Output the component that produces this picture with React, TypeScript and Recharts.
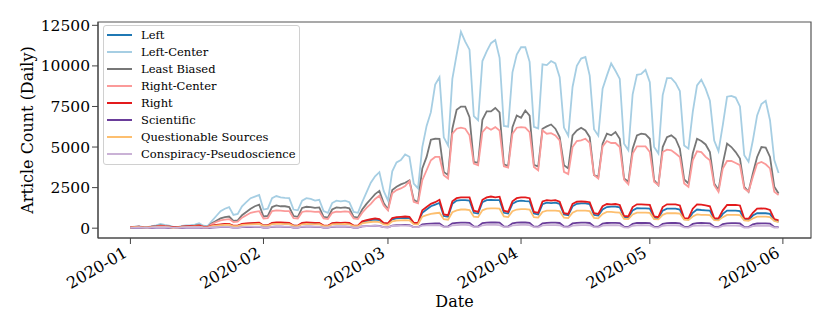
import { LineChart, Line, XAxis, YAxis, ReferenceArea } from "recharts";

// daily article counts, 2020-01-01 .. 2020-05-31 (152 days)
const left = [
  50, 70, 80, 40, 30, 80, 90, 110, 100, 90, 50, 40, 90, 100, 110, 120, 140, 70, 60,
  130, 180, 210, 230, 240, 130, 140, 230, 260, 280, 300, 310, 150, 160,
  300, 320, 310, 300, 300, 150, 140,
  290, 310, 300, 290, 300, 140, 130,
  280, 300, 300, 310, 290, 140, 130,
  370, 440, 490, 530, 500, 290, 270,
  550, 600, 620, 640, 620, 300, 280,
  950, 1150, 1350, 1450, 1550, 750, 700,
  1500, 1700, 1730, 1730, 1700, 950, 900,
  1600, 1730, 1750, 1730, 1730, 950, 900,
  1500, 1650, 1700, 1670, 1650, 900, 850,
  1480, 1570, 1550, 1570, 1500, 850, 800,
  1350, 1500, 1530, 1530, 1480, 820, 780,
  1150, 1300, 1325, 1325, 1280, 680, 650,
  1100, 1230, 1225, 1225, 1200, 650, 610,
  1080, 1200, 1200, 1200, 1150, 560, 540,
  950, 1150, 1120, 1100, 1080, 560, 520,
  880, 1080, 1080, 1080, 1050, 520, 500,
  780, 920, 920, 920, 880, 480, 400,
];

const leftCenter = [
  60, 90, 120, 70, 60, 130, 170, 260, 200, 150, 80, 70, 140, 170, 180, 220, 300, 150, 130,
  450, 750, 1050, 1200, 1300, 820, 880, 1350, 1600, 1850, 1950, 2050, 1150, 1200,
  1850, 1980, 1900, 1870, 1850, 1150, 1100,
  1700, 1850, 1800, 1700, 1750, 1050, 950,
  1550, 1700, 1650, 1700, 1600, 1000, 950,
  1600, 2200, 2800, 3200, 3450, 2300, 1700,
  3500, 4050, 4200, 4550, 4400, 2750, 2450,
  5000, 6300, 7150, 8850, 9300, 5600, 5100,
  9200, 10700, 12100, 11500, 11000, 6900, 6650,
  10300, 10900, 11400, 11600, 10500, 6300, 6250,
  9600, 10700, 11150, 11150, 10250, 6250, 6150,
  10100, 10050, 10300, 10150, 9300, 6200, 5700,
  8700, 10000, 10450, 10550, 9400, 6100, 5700,
  8600, 9400, 10150, 9700, 9200, 5200, 4800,
  8250, 9450, 9500, 9750, 9000, 5000, 4600,
  8200, 9250, 9250, 8950, 8450, 5100, 4900,
  7150, 8800, 9150, 8600, 7850, 5400, 4750,
  6350, 8100, 8150, 8050, 7500, 4500, 4100,
  5400, 6950, 7650, 7850, 6650, 4200, 3400,
];

const leastBiased = [
  50, 70, 90, 50, 40, 100, 120, 170, 140, 110, 60, 50, 100, 120, 130, 150, 200, 100, 90,
  300, 450, 600, 680, 720, 450, 480, 800, 1000, 1200, 1350, 1450, 720, 760,
  1300, 1400, 1350, 1350, 1300, 750, 700,
  1250, 1320, 1300, 1250, 1280, 700, 650,
  1150, 1280, 1250, 1280, 1220, 700, 650,
  1150, 1500, 1800, 2100, 2300, 1550, 1150,
  2350, 2550, 2700, 2800, 2950, 1750, 1600,
  3680, 4390, 5450, 5510, 5500, 3470, 3270,
  6130, 7290, 7490, 7490, 6840, 4080, 4030,
  6680, 7200, 7200, 7410, 7140, 3940, 3820,
  6225, 6940, 6800, 7250, 6940, 3900, 3800,
  6130, 6270, 6390, 6130, 5610, 3880, 3680,
  5720, 6020, 6190, 6020, 5610, 3270, 3160,
  5210, 5820, 5720, 5920, 5510, 3060, 2860,
  4900, 5720, 5820, 5780, 5510, 2960, 2650,
  5000, 5610, 5720, 5510, 4900, 3000, 2760,
  4600, 5510, 5370, 5160, 4690, 2760, 2350,
  3980, 5210, 5000, 4690, 4290, 2550, 2240,
  3370, 4390, 5000, 4960, 4390, 2550, 2140,
];

const rightCenter = [
  40, 60, 80, 40, 30, 80, 100, 140, 120, 90, 50, 40, 90, 100, 110, 130, 170, 90, 80,
  250, 380, 480, 530, 560, 380, 400, 650, 800, 950, 1000, 1050, 600, 620,
  1050, 1100, 1080, 1050, 1050, 620, 600,
  1000, 1050, 1030, 1000, 1020, 600, 560,
  950, 1020, 1000, 1030, 1000, 600, 560,
  950, 1250, 1500, 1800, 2000, 1400, 1100,
  2150, 2350, 2450, 2590, 2900, 1630, 1530,
  2960, 3570, 4185, 4390, 4390, 3270, 3060,
  5820, 6130, 6190, 6130, 5720, 3980, 3880,
  5920, 6225, 6065, 6225, 6020, 3820, 3740,
  5820, 6190, 6225, 6200, 5920, 3775, 3570,
  6020, 5820, 5860, 5720, 5410, 3470, 3330,
  5000, 5370, 5410, 5510, 5250, 3270, 3060,
  5040, 5370, 5250, 5250, 5000, 3000, 2710,
  4600, 5040, 5040, 5040, 4690, 2860, 2650,
  4690, 4840, 4800, 4600, 4390, 2760, 2550,
  4185, 4740, 4690, 4390, 4185, 2650, 2240,
  3680, 4140, 4140, 4020, 3880, 2450, 2240,
  3160, 3980, 4080, 3940, 3680, 2240, 2040,
];

const right = [
  60, 80, 90, 50, 40, 90, 100, 130, 110, 100, 60, 50, 100, 110, 120, 130, 150, 80, 70,
  150, 200, 240, 260, 270, 150, 160, 260, 290, 310, 330, 340, 170, 180,
  330, 360, 350, 340, 330, 170, 160,
  320, 350, 340, 330, 330, 160, 150,
  310, 340, 330, 340, 320, 160, 150,
  420, 500, 550, 600, 560, 330, 300,
  620, 680, 700, 720, 700, 330, 320,
  1100, 1300, 1500, 1600, 1750, 850, 800,
  1650, 1850, 1900, 1900, 1900, 1080, 1000,
  1750, 1900, 1950, 1900, 1940, 1080, 1000,
  1650, 1850, 1900, 1900, 1850, 1000, 950,
  1650, 1730, 1700, 1730, 1630, 920, 880,
  1500, 1630, 1650, 1630, 1600, 920, 880,
  1350, 1490, 1470, 1490, 1430, 750, 720,
  1300, 1470, 1470, 1450, 1430, 720, 680,
  1300, 1470, 1470, 1470, 1400, 610, 600,
  1200, 1470, 1450, 1400, 1350, 620, 600,
  1100, 1430, 1430, 1430, 1400, 600, 580,
  950, 1200, 1225, 1200, 1120, 560, 480,
];

const scientific = [
  10, 20, 20, 10, 10, 20, 30, 30, 30, 20, 10, 10, 20, 30, 30, 30, 40, 20, 10,
  40, 50, 60, 60, 60, 30, 30, 60, 70, 70, 80, 80, 30, 30,
  80, 90, 90, 80, 80, 30, 30,
  80, 90, 90, 80, 80, 30, 30,
  80, 90, 90, 90, 80, 30, 30,
  110, 130, 140, 150, 140, 60, 50,
  160, 180, 190, 200, 190, 70, 60,
  230, 260, 280, 290, 300, 110, 100,
  300, 330, 340, 340, 330, 110, 100,
  310, 340, 350, 350, 340, 110, 100,
  300, 340, 350, 350, 330, 100, 90,
  300, 330, 340, 340, 320, 100, 90,
  290, 330, 340, 340, 320, 100, 90,
  280, 320, 330, 330, 310, 90, 80,
  270, 320, 330, 320, 310, 90, 80,
  270, 310, 320, 320, 300, 90, 80,
  260, 310, 320, 310, 300, 90, 80,
  250, 300, 310, 310, 290, 80, 70,
  240, 290, 300, 300, 280, 80, 60,
];

const questionable = [
  40, 60, 70, 40, 30, 70, 80, 90, 80, 70, 0, 30, 60, 70, 80, 90, 100, 50, 40,
  120, 160, 190, 200, 210, 120, 130, 200, 220, 240, 250, 260, 140, 150,
  250, 270, 260, 250, 250, 140, 130,
  240, 260, 250, 240, 250, 130, 120,
  230, 250, 250, 260, 240, 130, 120,
  300, 350, 380, 400, 380, 230, 210,
  420, 460, 480, 500, 480, 250, 240,
  710, 800, 880, 920, 950, 550, 520,
  980, 1100, 1150, 1150, 1120, 710, 680,
  1100, 1200, 1225, 1225, 1200, 720, 680,
  1050, 1150, 1170, 1170, 1150, 680, 650,
  1000, 1080, 1080, 1080, 1050, 650, 620,
  950, 1080, 1080, 1080, 1050, 640, 610,
  880, 1000, 1000, 980, 960, 580, 560,
  850, 960, 960, 960, 940, 560, 540,
  820, 920, 920, 920, 900, 520, 500,
  720, 850, 820, 815, 800, 500, 480,
  680, 815, 815, 815, 800, 480, 460,
  600, 710, 710, 710, 680, 440, 380,
];

const conspiracy = [
  30, 40, 50, 30, 20, 50, 60, 70, 60, 50, 30, 20, 50, 60, 60, 70, 80, 40, 30,
  60, 70, 80, 80, 80, 40, 40, 80, 90, 90, 100, 100, 50, 50,
  100, 110, 110, 100, 100, 50, 50,
  100, 110, 110, 100, 100, 50, 50,
  100, 110, 110, 110, 100, 50, 50,
  120, 130, 140, 140, 130, 60, 50,
  140, 150, 160, 160, 150, 60, 60,
  160, 170, 180, 180, 180, 70, 60,
  180, 190, 200, 200, 190, 70, 60,
  180, 200, 200, 200, 190, 70, 60,
  170, 190, 200, 200, 190, 60, 50,
  170, 190, 190, 190, 180, 60, 50,
  160, 180, 190, 190, 180, 60, 50,
  160, 180, 180, 180, 170, 50, 40,
  150, 170, 180, 170, 170, 50, 40,
  150, 170, 170, 170, 160, 50, 40,
  140, 160, 170, 160, 160, 50, 40,
  140, 160, 160, 160, 150, 40, 40,
  130, 150, 150, 150, 140, 40, 30,
];

const monthLabels = ["2020-01", "2020-02", "2020-03", "2020-04", "2020-05", "2020-06"];
const monthStartDays = [0, 31, 60, 91, 121, 152];
const yTicks = [0, 2500, 5000, 7500, 10000, 12500];

const series = [
  { key: "left", name: "Left", color: "#1f78b4", values: left },
  { key: "leftCenter", name: "Left-Center", color: "#a6cee3", values: leftCenter },
  { key: "leastBiased", name: "Least Biased", color: "#777777", values: leastBiased },
  { key: "rightCenter", name: "Right-Center", color: "#fb9a99", values: rightCenter },
  { key: "right", name: "Right", color: "#e31a1c", values: right },
  { key: "scientific", name: "Scientific", color: "#6a3d9a", values: scientific },
  { key: "questionable", name: "Questionable Sources", color: "#fdbf6f", values: questionable },
  { key: "conspiracy", name: "Conspiracy-Pseudoscience", color: "#cab2d6", values: conspiracy },
];

const data = leftCenter.map((_, day) => {
  const row: Record<string, number> = { day };
  series.forEach((s) => {
    row[s.key] = s.values[day];
  });
  return row;
});

const FONT = "'DejaVu Serif', serif";
const X_DOMAIN = [-7.55, 158.55];
const Y_DOMAIN = [-605, 12705];

function DateTick(props: any) {
  const { x, y, payload } = props;
  const i = monthStartDays.indexOf(payload.value);
  const ax = x - 2;
  const ay = y + 10;
  return (
    <text
      x={ax}
      y={ay}
      transform={`rotate(-30 ${ax} ${ay})`}
      textAnchor="end"
      fontSize={16}
      fill="#000"
      fontFamily={FONT}
    >
      {monthLabels[i]}
    </text>
  );
}

function LegendBox() {
  return (
    <div
      style={{
        position: "absolute",
        left: 103,
        top: 25,
        width: 197,
        height: 140,
        boxSizing: "border-box",
        border: "1px solid #d0d0d0",
        borderRadius: 3,
        background: "rgba(255,255,255,0.85)",
      }}
    >
      {series.map((s, i) => (
        <div
          key={s.key}
          style={{
            position: "absolute",
            left: 3,
            top: 0.5 + i * 17,
            height: 17,
            display: "flex",
            alignItems: "center",
            whiteSpace: "nowrap",
          }}
        >
          <svg width={25} height={4} style={{ display: "block" }}>
            <line x1={0} y1={2} x2={25} y2={2} stroke={s.color} strokeWidth={2} />
          </svg>
          <span style={{ marginLeft: 9, fontSize: 11.5, fontFamily: FONT, lineHeight: "17px", color: "#000" }}>
            {s.name}
          </span>
        </div>
      ))}
    </div>
  );
}

export default function App() {
  return (
    <div style={{ position: "absolute", left: 0, top: 0, width: 830, height: 332, background: "#fff" }}>
      <LineChart width={830} height={332} data={data} margin={{ top: 22, right: 19, bottom: 0, left: 0 }}>
        <XAxis
          dataKey="day"
          type="number"
          domain={X_DOMAIN}
          allowDataOverflow
          ticks={monthStartDays}
          tick={DateTick}
          tickSize={6}
          height={94}
          stroke="#444"
          interval={0}
          label={{ value: "Date", position: "insideBottom", offset: 25, fontSize: 16, fill: "#000", fontFamily: FONT }}
        />
        <YAxis
          type="number"
          domain={Y_DOMAIN}
          allowDataOverflow
          ticks={yTicks}
          tickSize={6}
          width={98}
          stroke="#444"
          interval={0}
          tick={{ fontSize: 15.5, fill: "#000", fontFamily: FONT }}
          label={{
            value: "Article Count (Daily)",
            angle: -90,
            position: "insideLeft",
            offset: 27,
            fontSize: 16,
            fill: "#000",
            fontFamily: FONT,
            style: { textAnchor: "middle" },
          }}
        />
        {series.map((s) => (
          <Line
            key={s.key}
            type="linear"
            dataKey={s.key}
            name={s.name}
            stroke={s.color}
            strokeWidth={1.8}
            dot={false}
            activeDot={false}
            isAnimationActive={false}
          />
        ))}
        <ReferenceArea
          x1={X_DOMAIN[0]}
          x2={X_DOMAIN[1]}
          y1={Y_DOMAIN[0]}
          y2={Y_DOMAIN[1]}
          fill="none"
          fillOpacity={0}
          stroke="#555"
          strokeWidth={1.2}
          ifOverflow="visible"
        />
      </LineChart>
      <LegendBox />
    </div>
  );
}
